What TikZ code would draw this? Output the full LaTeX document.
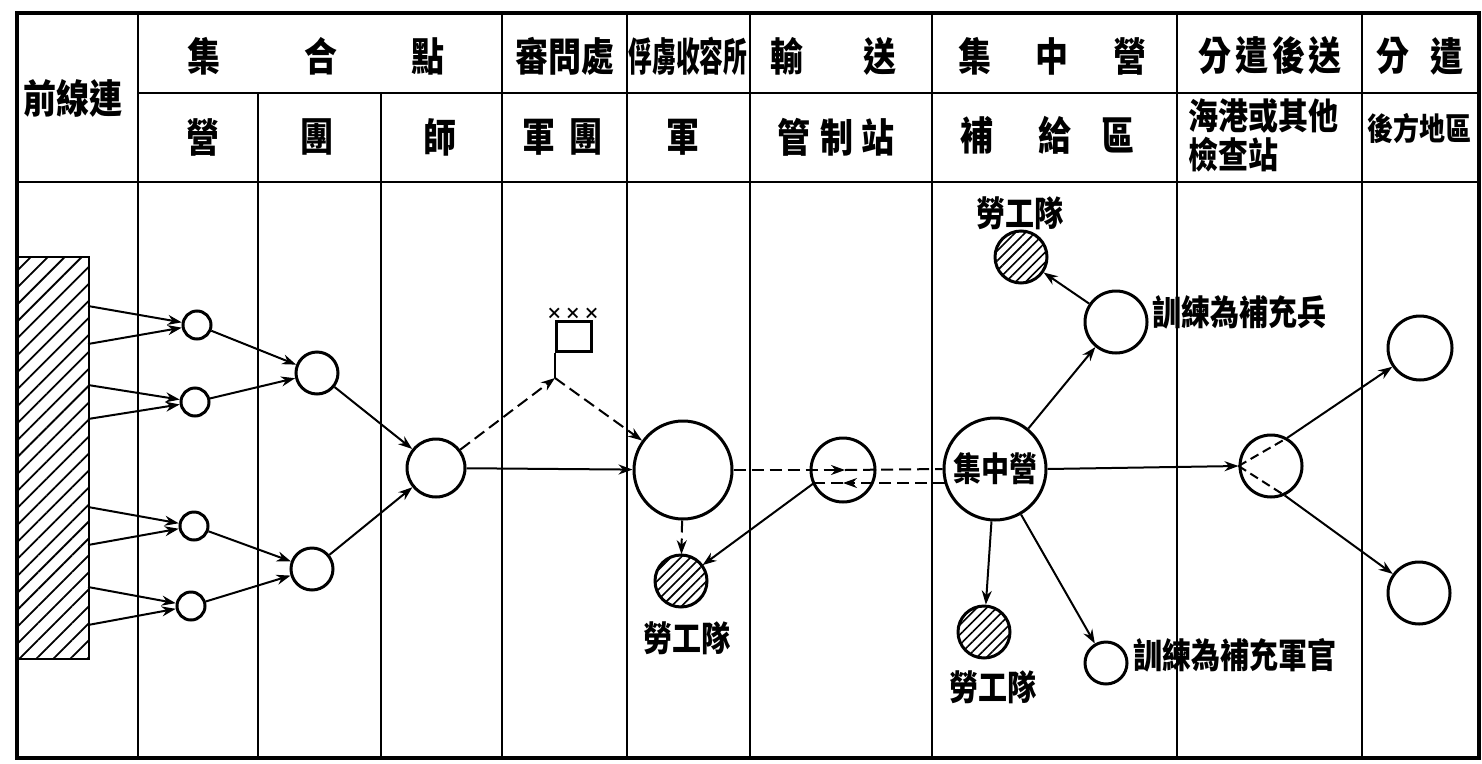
\documentclass[tikz,border=0pt]{standalone}
\usepackage{fontspec}
\setmainfont{Noto Sans CJK TC}
\usetikzlibrary{arrows.meta,patterns.meta}
\newcommand{\tallt}[1]{\scalebox{1}[1.2]{#1}}
\begin{document}
\begin{tikzpicture}[x=1pt,y=-1pt,
  grid/.style={line width=2.8pt},
  circ/.style={circle,draw,line width=3pt,inner sep=0pt},
  hatchc/.style={circ,pattern={Lines[angle=45,distance=7pt,line width=1.6pt]}},
  arr/.style={line width=2pt,-{Stealth[length=14pt,width=10pt]}},
  plain/.style={line width=2pt},
  dsh/.style={dash pattern=on 12pt off 6pt},
  hdr/.style={font=\fontsize{33}{36}\selectfont\bfseries,inner sep=0pt},
  lbl/.style={font=\fontsize{29}{32}\selectfont\bfseries,inner sep=0pt}]
\useasboundingbox (0,0) rectangle (1482,763);
% table
\draw[line width=3.4pt] (17,13) rectangle (1479,758);
\foreach \x in {138,502,627,750,932,1177,1362} \draw[grid] (\x,13) -- (\x,758);
\foreach \x in {258,381} \draw[grid] (\x,93) -- (\x,758);
\draw[grid] (138,93) -- (1479,93);
\draw[grid] (17,182) -- (1479,182);
% header row 1
\node[hdr] (qx) at (73,98) {\tallt{前線連}};
\node[hdr] (h1a) at (204,56) {\tallt{集}};
\node[hdr] (h1b) at (321,56) {\tallt{合}};
\node[hdr] (h1c) at (428,56) {\tallt{點}};
\node[hdr] (h1d) at (565,56) {\tallt{審問處}};
\node[hdr] (h1e) at (688,56) {\scalebox{0.72}[1.2]{俘虜收容所}};
\node[hdr] (h1f) at (787,56) {\tallt{輸}};
\node[hdr] (h1g) at (880,56) {\tallt{送}};
\node[hdr] (h1h) at (975,56) {\tallt{集}};
\node[hdr] (h1i) at (1052,56) {\tallt{中}};
\node[hdr] (h1j) at (1130,56) {\tallt{營}};
\node[hdr] (h1k) at (1270,56) {\tallt{分\hspace{4pt}遣\hspace{4pt}後\hspace{4pt}送}};
\node[hdr] (h1l) at (1393,56) {\tallt{分}};
\node[hdr] (h1m) at (1447,56) {\tallt{遣}};
% header row 2
\node[hdr] (h2a) at (203,137) {\tallt{營}};
\node[hdr] (h2b) at (317,137) {\tallt{團}};
\node[hdr] (h2c) at (440,137) {\tallt{師}};
\node[hdr] (h2d) at (562,137) {\tallt{軍\hspace{14pt}團}};
\node[hdr] (h2e) at (683,137) {\tallt{軍}};
\node[hdr] (h2f) at (836,137) {\tallt{管\hspace{10pt}制\hspace{8pt}站}};
\node[hdr] (h2g) at (977,135) {\tallt{補}};
\node[hdr] (h2h) at (1055,135) {\tallt{給}};
\node[hdr] (h2i) at (1118,135) {\tallt{區}};
\node[hdr,font=\fontsize{30}{32}\selectfont\bfseries,anchor=west] (h2j) at (1188,116) {\tallt{海港或其他}};
\node[hdr,font=\fontsize{30}{32}\selectfont\bfseries,anchor=west] (h2k) at (1188,155) {\tallt{檢查站}};
\node[hdr,font=\fontsize{26}{28}\selectfont\bfseries] (h2l) at (1419,128) {\tallt{後方地區}};
% front line block
\node[draw,line width=2.8pt,pattern={Lines[angle=45,distance=12pt,line width=1.8pt]},
  minimum width=71pt,minimum height=402pt,inner sep=0pt,anchor=north west] (front) at (17,256) {};
\foreach \i/\y in {1/306,2/344,3/385,4/419,5/507,6/545,7/587,8/625}
  \coordinate (s\i) at (88,\y);
% circles
\node[circ,minimum size=28pt] (c1) at (197,325) {};
\node[circ,minimum size=28pt] (c2) at (195,402) {};
\node[circ,minimum size=28pt] (c3) at (194,526) {};
\node[circ,minimum size=28pt] (c4) at (191,606) {};
\node[circ,minimum size=42pt] (c5) at (317,373) {};
\node[circ,minimum size=42pt] (c6) at (312,569) {};
\node[circ,minimum size=58pt] (c7) at (436,468) {};
\node[circ,minimum size=98pt] (jun) at (683,470) {};
\node[hatchc,minimum size=52pt] (lw1) at (681,581) {};
\node[lbl] (lw1t) at (687,638) {\tallt{勞工隊}};
\node[circ,minimum size=64pt] (gz) at (843,470) {};
\node[circ,minimum size=102pt,font=\fontsize{28}{30}\selectfont\bfseries] (jzy) at (995,469) {\tallt{集中營}};
\node[hatchc,minimum size=52pt] (lw2) at (984,632) {};
\node[lbl] (lw2t) at (993,687) {\tallt{勞工隊}};
\node[circ,minimum size=62pt] (bcb) at (1116,322) {};
\node[lbl,anchor=west] (bcbt) at (1152,312) {\tallt{訓練為補充兵}};
\node[hatchc,minimum size=52pt] (lw3) at (1021,257) {};
\node[lbl] (lw3t) at (1020,213) {\tallt{勞工隊}};
\node[circ,minimum size=42pt] (bcg) at (1106,663) {};
\node[lbl,anchor=west] (bcgt) at (1133,655) {\tallt{訓練為補充軍官}};
\node[circ,minimum size=62pt] (fq) at (1271,466) {};
\node[circ,minimum size=64pt] (r1) at (1420,348) {};
\node[circ,minimum size=62pt] (r2) at (1419,593) {};
% flag
\coordinate (pole) at (555,378);
\node[draw,line width=2.6pt,minimum width=35pt,minimum height=30pt,inner sep=0pt,anchor=south west] (flag) at (555,353) {};
\node[inner sep=0pt,font=\fontsize{16}{16}\selectfont\bfseries] (xxx) at (573,314) {×\,×\,×};
\draw[line width=2.6pt] (pole) -- (flag.south west);
% connectors: front line to battalions
\draw[arr] (s1) -- (c1); \draw[arr] (s2) -- (c1);
\draw[arr] (s3) -- (c2); \draw[arr] (s4) -- (c2);
\draw[arr] (s5) -- (c3); \draw[arr] (s6) -- (c3);
\draw[arr] (s7) -- (c4); \draw[arr] (s8) -- (c4);
\draw[arr] (c1) -- (c5); \draw[arr] (c2) -- (c5);
\draw[arr] (c3) -- (c6); \draw[arr] (c4) -- (c6);
\draw[arr] (c5) -- (c7); \draw[arr] (c6) -- (c7);
\draw[arr,dsh] (c7) -- (pole);
\draw[arr,dsh] (pole) -- (jun);
\draw[arr] (c7) -- (jun);
\draw[arr,dsh] (jun) -- (lw1);
% transport
\coordinate (gzr) at (845,470);
\draw[arr,dsh] (jun.east) -- (gzr);
\draw[plain,dsh] (gzr) -- (jzy.west);
\coordinate (jzyl) at (945,483);
\coordinate (gzm) at (843,483);
\coordinate (gzl) at (814,483);
\draw[arr,dsh] (jzyl) -- (gzm);
\draw[plain,dsh] (gzm) -- (gzl);
\draw[arr] (gzl) -- (lw1);
% concentration camp
\draw[arr] (jzy) -- (lw2);
\draw[arr] (jzy) -- (bcb);
\draw[arr] (bcb) -- (lw3);
\draw[arr] (jzy) -- (bcg);
\draw[arr] (jzy.east) -- (fq.west);
\draw[plain,dash pattern=on 9pt off 5pt] (fq.west) -- (fq.60);
\draw[plain,dash pattern=on 9pt off 5pt] (fq.west) -- (fq.295);
\draw[arr] (fq.60) -- (r1);
\draw[arr] (fq.295) -- (r2);
\end{tikzpicture}
\end{document}
